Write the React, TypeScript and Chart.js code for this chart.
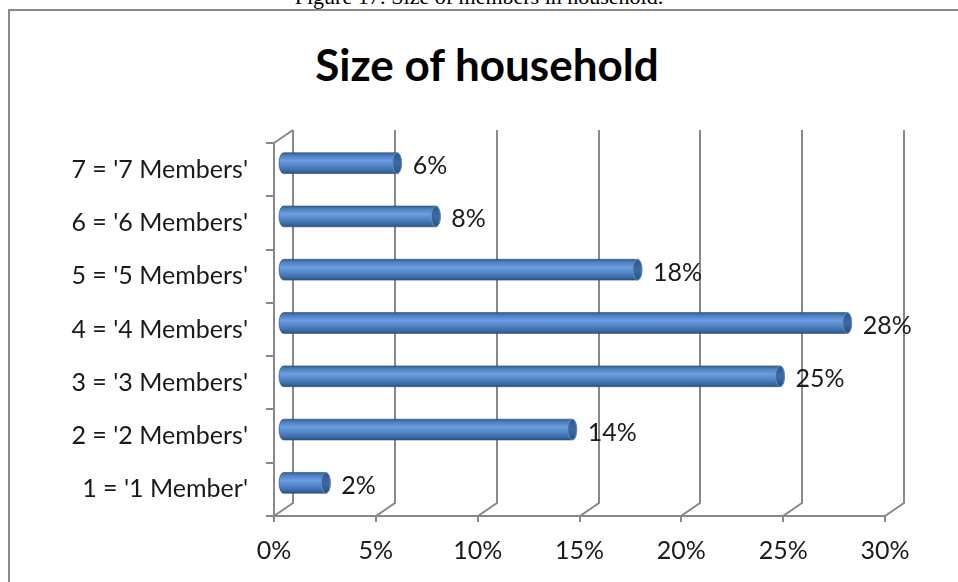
import React, { useEffect, useRef } from "react";
import { Chart, registerables } from "chart.js";

Chart.register(...registerables);

const categories = [
  "1 = '1 Member'",
  "2 = '2 Members'",
  "3 = '3 Members'",
  "4 = '4 Members'",
  "5 = '5 Members'",
  "6 = '6 Members'",
  "7 = '7 Members'",
];
const shares = [2.3, 14.4, 24.6, 27.9, 17.6, 7.7, 5.8];
const xTicksMax = 30;
const xTickStep = 5;

const DX = 19;
const DY = -13;
const FONT = "Lato, 'Open Sans', sans-serif";

const cylinder3d = {
  id: "cylinder3d",
  beforeDatasetsDraw(chart: any) {
    const { ctx, chartArea: ca, scales } = chart;
    const x = scales.x;
    const y = scales.y;
    ctx.save();
    ctx.strokeStyle = "#888888";
    ctx.lineWidth = 2;
    ctx.lineJoin = "miter";
    x.ticks.forEach((t: any) => {
      const fx = Math.round(x.getPixelForValue(t.value));
      ctx.beginPath();
      ctx.moveTo(fx + DX, ca.top + DY);
      ctx.lineTo(fx + DX, ca.bottom + DY);
      ctx.lineTo(fx, ca.bottom);
      ctx.lineTo(fx, ca.bottom + 6);
      ctx.stroke();
    });
    ctx.beginPath();
    ctx.moveTo(ca.left, ca.bottom);
    ctx.lineTo(ca.right, ca.bottom);
    ctx.stroke();
    ctx.beginPath();
    ctx.moveTo(ca.left, ca.bottom);
    ctx.lineTo(ca.left, ca.top);
    ctx.lineTo(ca.left + DX, ca.top + DY);
    ctx.stroke();
    for (let i = 0; i <= categories.length; i++) {
      const yb = Math.round(y.getPixelForValue(i - 0.5));
      ctx.beginPath();
      ctx.moveTo(ca.left - 8, yb);
      ctx.lineTo(ca.left, yb);
      ctx.stroke();
    }
    ctx.restore();
  },
  afterDatasetsDraw(chart: any) {
    const { ctx } = chart;
    const meta = chart.getDatasetMeta(0);
    const mx = DX / 2;
    const my = DY / 2;
    ctx.save();
    meta.data.forEach((el: any, i: number) => {
      const p = el.getProps(["x", "y", "base", "height"], true);
      const x0 = p.base + mx;
      const x1 = p.x + mx;
      const cy = p.y + my;
      const r = p.height / 2;
      const rx = 4.5;
      const g = ctx.createLinearGradient(0, cy - r, 0, cy + r);
      g.addColorStop(0, "#335d94");
      g.addColorStop(0.12, "#4a7bbd");
      g.addColorStop(0.38, "#6b9fe0");
      g.addColorStop(0.6, "#5689cc");
      g.addColorStop(0.85, "#3f6ca8");
      g.addColorStop(1, "#2b5283");
      ctx.beginPath();
      ctx.moveTo(x0, cy - r);
      ctx.lineTo(x1 - rx, cy - r);
      ctx.ellipse(x1 - rx, cy, rx, r, 0, -Math.PI / 2, Math.PI / 2, false);
      ctx.lineTo(x0, cy + r);
      ctx.ellipse(x0, cy, rx, r, 0, Math.PI / 2, (3 * Math.PI) / 2, false);
      ctx.closePath();
      ctx.fillStyle = g;
      ctx.fill();
      ctx.strokeStyle = "rgba(40,75,120,0.6)";
      ctx.lineWidth = 1;
      ctx.stroke();
      const gc = ctx.createLinearGradient(0, cy - r, 0, cy + r);
      gc.addColorStop(0, "#2f5689");
      gc.addColorStop(0.5, "#3e6aa3");
      gc.addColorStop(1, "#2a4f7f");
      ctx.beginPath();
      ctx.ellipse(x1 - rx, cy, rx, r, 0, 0, Math.PI * 2);
      ctx.fillStyle = gc;
      ctx.fill();
      ctx.strokeStyle = "#6a94cc";
      ctx.lineWidth = 0.8;
      ctx.stroke();
      ctx.fillStyle = "#1a1a1a";
      ctx.font = "25px " + FONT;
      ctx.textAlign = "left";
      ctx.textBaseline = "middle";
      ctx.fillText(Math.round(shares[i]) + "%", x1 + 11, cy + 3);
    });
    ctx.restore();
  },
};

export default function App() {
  const ref = useRef<HTMLCanvasElement>(null);
  useEffect(() => {
    if (!ref.current) return;
    const chart = new Chart(ref.current, {
      type: "bar",
      data: {
        labels: categories,
        datasets: [
          {
            data: shares,
            backgroundColor: "rgba(0,0,0,0)",
            borderWidth: 0,
            categoryPercentage: 1,
            barPercentage: 0.39,
          },
        ],
      },
      options: {
        indexAxis: "y",
        animation: false,
        responsive: false,
        devicePixelRatio: 1,
        layout: { padding: { top: 143, right: 73, left: 0, bottom: 0 } },
        plugins: {
          legend: { display: false },
          tooltip: { enabled: false },
          title: { display: false },
        },
        scales: {
          x: {
            min: 0,
            max: xTicksMax,
            grid: { display: false },
            border: { display: false },
            ticks: {
              stepSize: xTickStep,
              padding: 12,
              color: "#1a1a1a",
              font: { family: FONT, size: 25 },
              callback: (v: any) => v + "%",
              maxRotation: 0,
            },
            afterFit: (s: any) => {
              s.height = 66;
            },
          },
          y: {
            reverse: true,
            grid: { display: false },
            border: { display: false },
            ticks: {
              padding: 18,
              color: "#1a1a1a",
              font: { family: FONT, size: 25 },
            },
            afterFit: (s: any) => {
              s.width = 274;
            },
          },
        },
      },
      plugins: [cylinder3d],
    });
    return () => chart.destroy();
  }, []);

  return (
    <div
      style={{
        position: "absolute",
        left: 0,
        top: 0,
        width: 958,
        height: 582,
        overflow: "hidden",
        background: "#fff",
      }}
    >
      <div
        style={{
          position: "absolute",
          left: 0,
          top: -16,
          width: 958,
          textAlign: "center",
          font: "22px 'Liberation Serif', serif",
          lineHeight: "26px",
          color: "#000",
          whiteSpace: "nowrap",
        }}
      >
        Figure 17: Size of members in household.
      </div>
      <div
        style={{
          position: "absolute",
          left: 8,
          top: 9,
          width: 1000,
          height: 1000,
          border: "2px solid #8a8a8a",
          boxSizing: "border-box",
        }}
      />
      <div
        style={{
          position: "absolute",
          left: 8,
          top: 36,
          width: 958,
          textAlign: "center",
          font: "bold 44px " + FONT,
          lineHeight: "56px",
          color: "#000",
          whiteSpace: "nowrap",
        }}
      >
        Size of household
      </div>
      <canvas
        ref={ref}
        width={958}
        height={582}
        style={{ position: "absolute", left: 0, top: 0, width: 958, height: 582 }}
      />
    </div>
  );
}
